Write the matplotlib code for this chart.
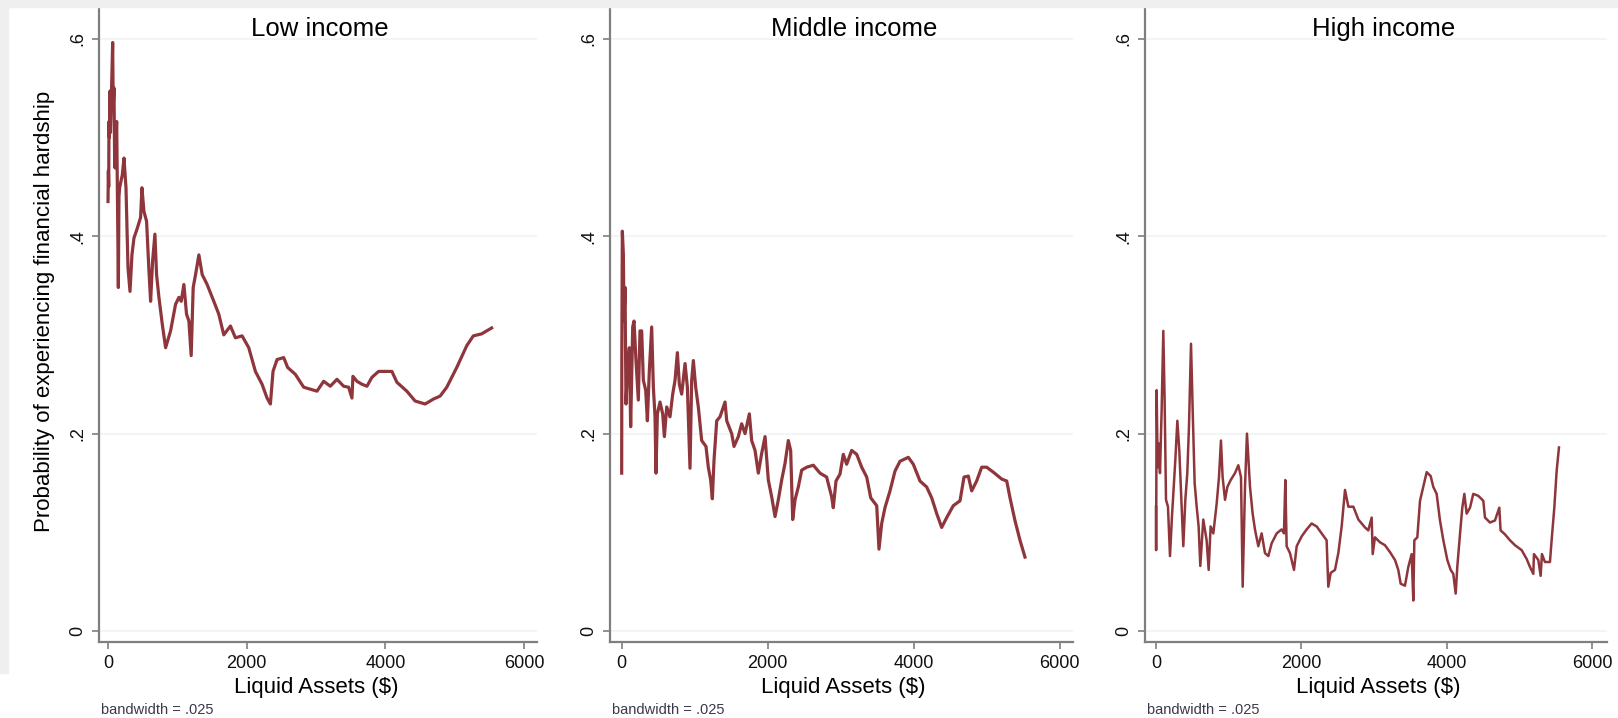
import matplotlib.pyplot as plt
from matplotlib.patches import Rectangle

plt.rcParams['font.family'] = ['Liberation Sans', 'DejaVu Sans']

# ===== DATA =====
low_x = [0, 5, 10, 14, 20, 29, 35, 48, 55, 67,
         75, 86, 95, 101, 112, 125, 149, 158, 168, 185,
         206, 230, 259, 288, 317, 345, 374, 422, 470,
         489, 518, 556, 590, 614, 643, 676, 700, 734, 782,
         830, 902, 974, 1022, 1055, 1094, 1132, 1166, 1199, 1228,
         1262, 1310, 1358, 1429, 1525, 1597, 1669, 1765, 1837, 1933,
         2029, 2125, 2221, 2293, 2341, 2379, 2437, 2533, 2590, 2701,
         2821, 2917, 3013, 3109, 3205, 3301, 3397, 3469, 3517, 3531,
         3589, 3661, 3733, 3805, 3901, 4093, 4165, 4308, 4428, 4572,
         4692, 4788, 4884, 5028, 5172, 5267, 5387, 5531]
low_y = [0.435, 0.466, 0.450, 0.516, 0.500, 0.547, 0.505, 0.540, 0.560, 0.596,
         0.530, 0.550, 0.480, 0.469, 0.495, 0.516, 0.348, 0.440, 0.449, 0.455,
         0.462, 0.479, 0.449, 0.368, 0.344, 0.381, 0.398, 0.408, 0.419,
         0.449, 0.425, 0.415, 0.365, 0.334, 0.375, 0.402, 0.361, 0.338, 0.311,
         0.287, 0.304, 0.331, 0.338, 0.334, 0.351, 0.321, 0.314, 0.279, 0.348,
         0.361, 0.381, 0.361, 0.351, 0.334, 0.321, 0.300, 0.309, 0.297, 0.299,
         0.287, 0.263, 0.250, 0.236, 0.230, 0.263, 0.275, 0.277, 0.267, 0.260,
         0.247, 0.245, 0.243, 0.253, 0.248, 0.255, 0.248, 0.247, 0.236, 0.258,
         0.253, 0.250, 0.248, 0.257, 0.263, 0.263, 0.252, 0.243, 0.233, 0.230,
         0.235, 0.238, 0.247, 0.267, 0.289, 0.299, 0.301, 0.307]

mid_x = [0, 2, 9, 23, 32, 46, 59, 78, 105, 123,
         151, 169, 196, 228, 251, 274, 297, 329, 352, 379,
         411, 434, 457, 470, 489, 525, 562, 585, 617, 662,
         699, 731, 763, 790, 822, 868, 900, 936, 959, 982,
         1014, 1050, 1096, 1155, 1187, 1219, 1242, 1265, 1302, 1347,
         1416, 1439, 1507, 1539, 1598, 1644, 1690, 1749, 1781, 1827,
         1872, 1918, 1964, 2009, 2055, 2101, 2146, 2192, 2238, 2283,
         2315, 2343, 2375, 2420, 2466, 2535, 2626, 2717, 2808, 2877,
         2899, 2936, 2991, 3036, 3082, 3151, 3220, 3288, 3357, 3412,
         3494, 3525, 3562, 3607, 3676, 3744, 3813, 3927, 3995, 4087,
         4178, 4247, 4316, 4384, 4453, 4543, 4635, 4690, 4749, 4795,
         4863, 4932, 5000, 5091, 5206, 5275, 5320, 5388, 5457, 5525]
mid_y = [0.160, 0.281, 0.405, 0.382, 0.314, 0.348, 0.230, 0.264, 0.287, 0.207,
         0.308, 0.314, 0.274, 0.234, 0.304, 0.304, 0.254, 0.244, 0.213, 0.264,
         0.308, 0.247, 0.217, 0.160, 0.220, 0.232, 0.220, 0.197, 0.227, 0.217,
         0.240, 0.254, 0.282, 0.250, 0.240, 0.271, 0.247, 0.165, 0.254, 0.274,
         0.247, 0.227, 0.193, 0.187, 0.166, 0.153, 0.134, 0.173, 0.213, 0.217,
         0.232, 0.213, 0.200, 0.187, 0.197, 0.210, 0.200, 0.220, 0.193, 0.183,
         0.160, 0.180, 0.197, 0.153, 0.136, 0.116, 0.133, 0.153, 0.170, 0.193,
         0.183, 0.113, 0.133, 0.146, 0.163, 0.166, 0.168, 0.160, 0.156, 0.136,
         0.125, 0.152, 0.159, 0.179, 0.169, 0.183, 0.179, 0.166, 0.156, 0.135,
         0.127, 0.083, 0.109, 0.125, 0.142, 0.162, 0.172, 0.176, 0.169, 0.152,
         0.146, 0.135, 0.119, 0.105, 0.115, 0.127, 0.132, 0.156, 0.157, 0.142,
         0.152, 0.166, 0.166, 0.161, 0.154, 0.152, 0.135, 0.112, 0.092, 0.075]

high_x = [0, 2, 9, 23, 37, 55, 78, 101, 119, 138,
          165, 193, 220, 239, 266, 294, 321, 349, 376, 404,
          431, 454, 482, 505, 532, 560, 587, 610, 651, 697,
          725, 752, 789, 835, 867, 894, 917, 950, 982, 1028,
          1087, 1133, 1170, 1193, 1225, 1252, 1294, 1330, 1362, 1408,
          1454, 1500, 1546, 1592, 1661, 1729, 1761, 1780, 1798, 1844,
          1899, 1936, 2005, 2073, 2142, 2211, 2280, 2348, 2371, 2404,
          2463, 2509, 2555, 2601, 2647, 2716, 2785, 2876, 2921, 2968,
          2982, 3013, 3082, 3151, 3220, 3289, 3334, 3367, 3426, 3472,
          3518, 3541, 3555, 3596, 3633, 3678, 3725, 3780, 3816, 3862,
          3908, 3954, 4009, 4055, 4091, 4124, 4146, 4183, 4215, 4243,
          4275, 4321, 4366, 4435, 4504, 4527, 4596, 4664, 4724, 4742,
          4802, 4871, 4940, 5032, 5101, 5146, 5192, 5201, 5261, 5293,
          5311, 5352, 5421, 5444, 5481, 5513, 5545]
high_y = [0.126, 0.082, 0.244, 0.166, 0.190, 0.160, 0.224, 0.304, 0.234, 0.133,
          0.126, 0.076, 0.116, 0.139, 0.173, 0.213, 0.183, 0.133, 0.086, 0.133,
          0.160, 0.207, 0.291, 0.224, 0.150, 0.126, 0.106, 0.066, 0.113, 0.092,
          0.062, 0.106, 0.099, 0.129, 0.156, 0.193, 0.156, 0.133, 0.146, 0.153,
          0.160, 0.168, 0.156, 0.045, 0.146, 0.200, 0.146, 0.119, 0.103, 0.086,
          0.099, 0.079, 0.076, 0.089, 0.099, 0.103, 0.099, 0.153, 0.086, 0.079,
          0.062, 0.086, 0.096, 0.103, 0.109, 0.106, 0.099, 0.092, 0.045, 0.059,
          0.062, 0.079, 0.106, 0.143, 0.126, 0.126, 0.113, 0.105, 0.102, 0.115,
          0.078, 0.095, 0.090, 0.087, 0.080, 0.072, 0.062, 0.048, 0.046, 0.065,
          0.078, 0.031, 0.092, 0.095, 0.132, 0.146, 0.161, 0.157, 0.146, 0.139,
          0.112, 0.092, 0.072, 0.062, 0.058, 0.038, 0.065, 0.098, 0.125, 0.139,
          0.119, 0.125, 0.139, 0.137, 0.132, 0.115, 0.110, 0.112, 0.125, 0.102,
          0.098, 0.092, 0.087, 0.082, 0.073, 0.065, 0.058, 0.078, 0.072, 0.056,
          0.078, 0.070, 0.070, 0.092, 0.125, 0.162, 0.186]

titles = ["Low income", "Middle income", "High income"]
x_ticks = [0, 2000, 4000, 6000]
y_ticks = [0, 0.2, 0.4, 0.6]
y_tick_labels = ["0", ".2", ".4", ".6"]

# ===== LAYOUT (pixels of the 1618x718 picture) =====
W, H = 1618, 718
line_color = '#8f363c'
axis_color = '#7f7f7f'

fig = plt.figure(figsize=(W / 100, H / 100), dpi=100)

# light grey frame of the screenshot
fig.patches.append(Rectangle((0, 1 - 7 / H), 1, 7 / H, transform=fig.transFigure,
                             color='#efefef', zorder=0))
fig.patches.append(Rectangle((0, 1 - 673 / H), 8 / W, 673 / H, transform=fig.transFigure,
                             color='#efefef', zorder=0))

# left px, right px, xlim, title centre, xlabel centre, line width
panels = [
    (low_x, low_y, 99, 537, (-130, 6185), 320, 316, 2.3),
    (mid_x, mid_y, 610, 1073, (-160, 6183), 854, 843, 2.3),
    (high_x, high_y, 1145, 1607, (-151, 6206), 1384, 1378, 1.8),
]

for i, (xs, ys, left, right, xlim, t_c, xl_c, lw) in enumerate(panels):
    ax = fig.add_axes([left / W, 1 - 642 / H, (right - left) / W, 635 / H])
    ax.plot(xs, ys, color=line_color, lw=lw)
    ax.set_xlim(*xlim)
    ax.set_ylim(-0.011, 0.632)

    ax.set_xticks(x_ticks)
    ax.set_yticks(y_ticks)
    ax.set_yticklabels(y_tick_labels, rotation=90, va='center')

    ax.grid(axis='y', color='#edf3f4', lw=1.2)
    ax.set_axisbelow(True)
    for s in ['top', 'right']:
        ax.spines[s].set_visible(False)
    for s in ['left', 'bottom']:
        ax.spines[s].set_color(axis_color)
        ax.spines[s].set_linewidth(1.6)
    ax.tick_params(direction='out', length=5, width=1.2, color=axis_color,
                   labelsize=13, labelcolor='#111111', pad=4)

    fig.text(t_c / W, 1 - 29 / H, titles[i], ha='center', va='center', fontsize=18.5)
    fig.text(xl_c / W, 1 - 688 / H, "Liquid Assets ($)", ha='center', va='center', fontsize=16)
    fig.text((left + 2) / W, 1 - 710 / H, "bandwidth = .025", ha='left', va='center',
             fontsize=10.5, color='#3a3a4a')

fig.text(45 / W, 1 - 311 / H, "Probability of experiencing financial hardship",
         rotation=90, ha='center', va='center', fontsize=16)

fig.savefig("out.png", dpi=100)
